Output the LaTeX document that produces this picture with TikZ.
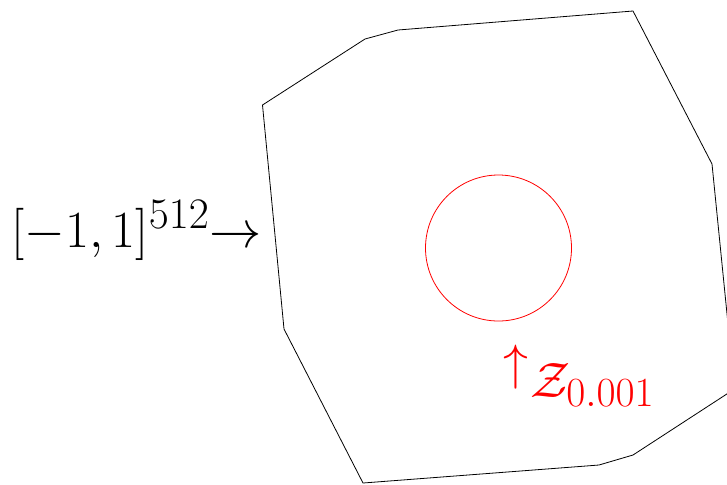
\documentclass[tikz,border=0pt]{standalone}
\usepackage{graphicx}
\usepackage{tikz}

\begin{document}
\begin{tikzpicture}[x=0.5pt, y=-0.5pt,
    every node/.style={inner sep=0pt, font=\Huge}]

    %% Page frame (reference is 727 x 484)
    \useasboundingbox (0,0) rectangle (727,484);

    %% Polytope (point symmetric about (498.5,247), cut by the right edge)
    \begin{scope}
      \clip (0,0) rectangle (727,484);
      \draw[black, thin] (262.5,105) -- (365,39) -- (398,30) -- (633,11)
        -- (712,164) -- (734.5,389) -- (633,455) -- (599,465)
        -- (363,483) -- (284,329) -- cycle;
    \end{scope}

    %% Small ball in the middle
    \draw[red, thin] (498.5,248) circle (36.5pt);

    %% Labels
    \node[anchor=base west] (cube) at (11,247)
      {\scalebox{1.05}{$[-1,1]^{512}\mathord{\rightarrow}$}};
    \node[anchor=base west, red] (zset) at (503,397)
      {$\raisebox{9pt}{$\uparrow$}\kern1pt\mathcal{Z}_{0.001}$};

  \end{tikzpicture}
\end{document}
